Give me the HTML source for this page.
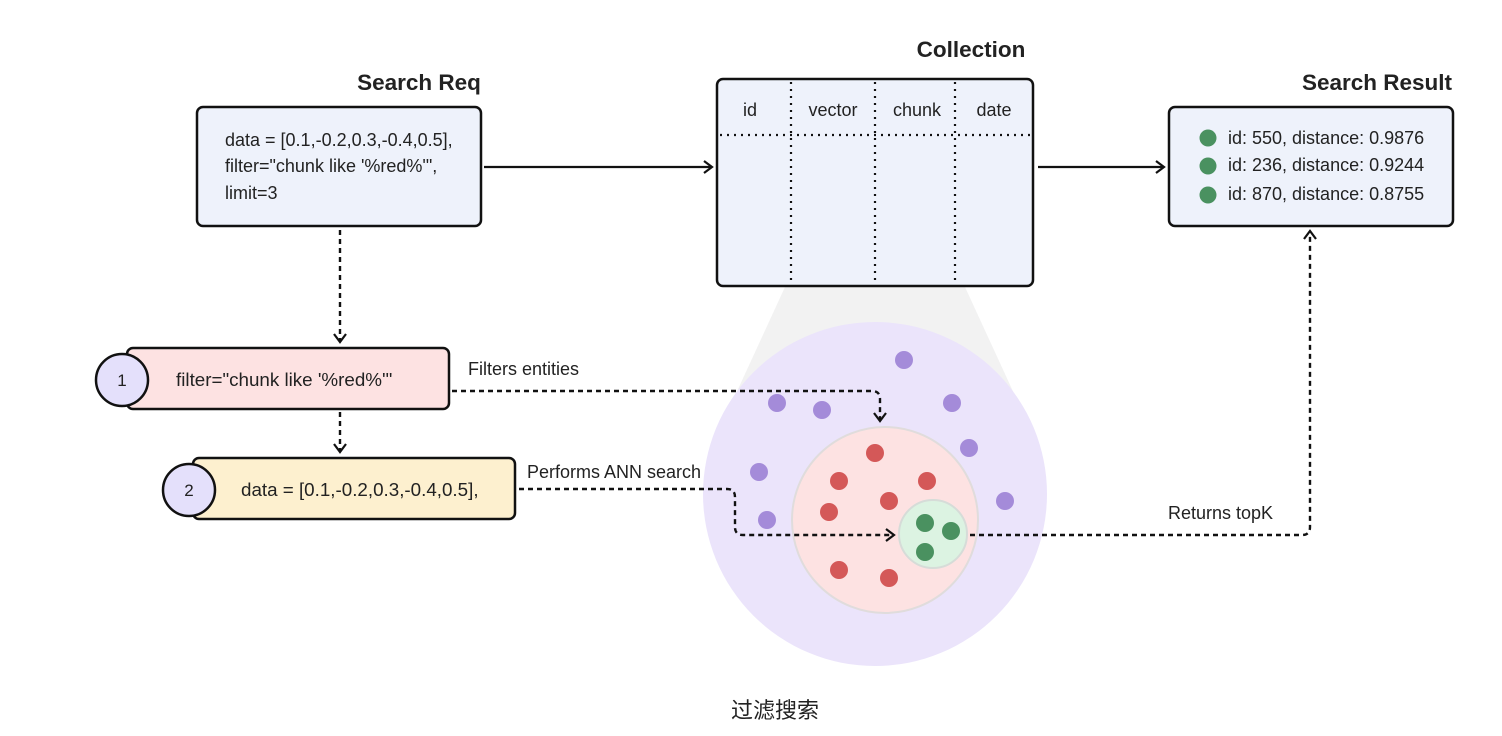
<!DOCTYPE html>
<html><head><meta charset="utf-8"><style>
html,body{margin:0;padding:0;background:#fff;}
svg{display:block;font-family:"Liberation Sans","Noto Sans CJK SC",sans-serif;}
</style></head><body>
<svg width="1502" height="736" viewBox="0 0 1502 736" xmlns="http://www.w3.org/2000/svg">
<defs>
<marker id="a" markerWidth="16" markerHeight="16" refX="11" refY="8" orient="auto" markerUnits="userSpaceOnUse">
<path d="M3,2 L11,8 L3,14" fill="none" stroke="#111" stroke-width="2.2"/></marker>
</defs>
<polygon points="785,287 965,287 1040,450 710,450" fill="#f2f2f2"/>
<circle cx="875" cy="494" r="172" fill="#ebe4fb"/>
<circle cx="885" cy="520" r="93" fill="#fde2e2" stroke="#e0dcdc" stroke-width="2"/>
<circle cx="933" cy="534" r="34" fill="#dcf3e2" stroke="#d6dcd8" stroke-width="2"/>
<g fill="#a48bd9">
<circle cx="904" cy="360" r="9"/><circle cx="777" cy="403" r="9"/><circle cx="822" cy="410" r="9"/><circle cx="952" cy="403" r="9"/><circle cx="969" cy="448" r="9"/><circle cx="759" cy="472" r="9"/><circle cx="1005" cy="501" r="9"/><circle cx="767" cy="520" r="9"/>
</g>
<g fill="#d45858">
<circle cx="875" cy="453" r="9"/><circle cx="839" cy="481" r="9"/><circle cx="927" cy="481" r="9"/><circle cx="889" cy="501" r="9"/><circle cx="829" cy="512" r="9"/><circle cx="839" cy="570" r="9"/><circle cx="889" cy="578" r="9"/>
</g>
<g fill="#4a9160">
<circle cx="925" cy="523" r="9"/><circle cx="951" cy="531" r="9"/><circle cx="925" cy="552" r="9"/>
</g>

<text x="419" y="90" font-size="22.5" font-weight="bold" fill="#222" text-anchor="middle">Search Req</text>
<text x="971" y="57" font-size="22.5" font-weight="bold" fill="#222" text-anchor="middle">Collection</text>
<text x="1377" y="90" font-size="22.5" font-weight="bold" fill="#222" text-anchor="middle">Search Result</text>

<rect x="197" y="107" width="284" height="119" rx="6" fill="#eef2fb" stroke="#111" stroke-width="2.5"/>
<g font-size="18" fill="#222">
<text x="225" y="146">data = [0.1,-0.2,0.3,-0.4,0.5],</text>
<text x="225" y="172">filter="chunk like '%red%'",</text>
<text x="225" y="199">limit=3</text>
</g>

<rect x="717" y="79" width="316" height="207" rx="6" fill="#eef2fb" stroke="#111" stroke-width="2.5"/>
<g stroke="#111" stroke-width="2.2" stroke-dasharray="2,5">
<line x1="791" y1="82" x2="791" y2="284"/><line x1="875" y1="82" x2="875" y2="284"/><line x1="955" y1="82" x2="955" y2="284"/>
<line x1="720" y1="135" x2="1030" y2="135"/>
</g>
<g font-size="18" fill="#222" text-anchor="middle">
<text x="750" y="116">id</text><text x="833" y="116">vector</text><text x="917" y="116">chunk</text><text x="994" y="116">date</text>
</g>

<rect x="1169" y="107" width="284" height="119" rx="6" fill="#eef2fb" stroke="#111" stroke-width="2.5"/>
<g fill="#4a9160"><circle cx="1208" cy="138" r="8.5"/><circle cx="1208" cy="166" r="8.5"/><circle cx="1208" cy="195" r="8.5"/></g>
<g font-size="18" fill="#222">
<text x="1228" y="144">id: 550, distance: 0.9876</text>
<text x="1228" y="171">id: 236, distance: 0.9244</text>
<text x="1228" y="200">id: 870, distance: 0.8755</text>
</g>

<line x1="484" y1="167" x2="712" y2="167" stroke="#111" stroke-width="2.2" marker-end="url(#a)"/>
<line x1="1038" y1="167" x2="1164" y2="167" stroke="#111" stroke-width="2.2" marker-end="url(#a)"/>

<g fill="none" stroke="#111" stroke-width="2.4" stroke-dasharray="5,4">
<line x1="340" y1="230" x2="340" y2="342" marker-end="url(#a)"/>
<line x1="340" y1="412" x2="340" y2="452" marker-end="url(#a)"/>
<path d="M452,391 H872 Q880,391 880,399 V421" marker-end="url(#a)"/>
<path d="M519,489 H727 Q735,489 735,497 V527 Q735,535 743,535 H894" marker-end="url(#a)"/>
<path d="M970,535 H1302 Q1310,535 1310,527 V231" marker-end="url(#a)"/>
</g>

<rect x="127" y="348" width="322" height="61" rx="6" fill="#fde2e2" stroke="#111" stroke-width="2.5"/>
<circle cx="122" cy="380" r="26" fill="#e4e0fb" stroke="#111" stroke-width="2.5"/>
<text x="122" y="386" font-size="17" text-anchor="middle" fill="#222">1</text>
<text x="176" y="386" font-size="18.8" fill="#222">filter="chunk like '%red%'"</text>

<rect x="193" y="458" width="322" height="61" rx="6" fill="#fdf0cf" stroke="#111" stroke-width="2.5"/>
<circle cx="189" cy="490" r="26" fill="#e4e0fb" stroke="#111" stroke-width="2.5"/>
<text x="189" y="496" font-size="17" text-anchor="middle" fill="#222">2</text>
<text x="241" y="496" font-size="18.8" fill="#222">data = [0.1,-0.2,0.3,-0.4,0.5],</text>

<g font-size="18" fill="#222">
<text x="468" y="375">Filters entities</text>
<text x="527" y="478">Performs ANN search</text>
<text x="1168" y="519">Returns topK</text>
</g>
<text x="775" y="718" font-size="22" fill="#222" text-anchor="middle">过滤搜索</text>
</svg>
</body></html>
